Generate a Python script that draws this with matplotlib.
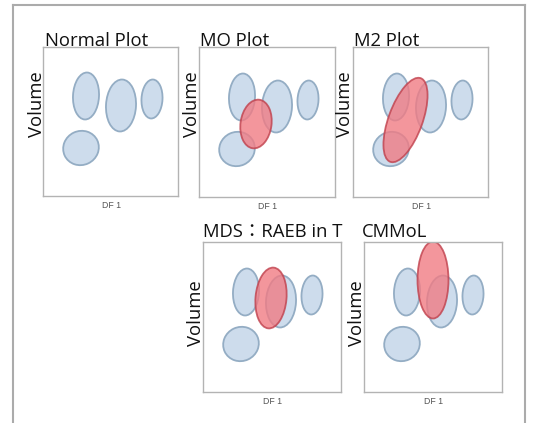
import matplotlib
matplotlib.use("Agg")
import matplotlib.pyplot as plt
from matplotlib.patches import Ellipse
from matplotlib.lines import Line2D

W, H = 533, 423

# Panel titles
titles = ["Normal Plot", "MO Plot", "M2 Plot", "MDS：RAEB in T", "CMMoL"]
x_label = "DF 1"
y_label = "Volume"

# Blue (normal) clusters: x, y, width, height, angle (in panel units)
blue_x = [43, 78, 109, 38]
blue_y = [100, 90.5, 97, 48]
blue_w = [26, 30, 21, 36]
blue_h = [47, 52, 39, 34]
blue_a = [-3, -3, -3, 25]

# Red (abnormal) cluster per panel (None for Normal)
red_x = [None, 57, 52.5, 68, 69]
red_y = [None, 73, 77, 94, 112]
red_w = [None, 31, 34, 31, 31]
red_h = [None, 49, 89, 61, 77]
red_a = [None, -8, -20, -5, 0]

# Layout: box (left, top, right, bottom) in pixels
boxes = [(43, 47, 178, 196), (199, 47, 335, 197), (353, 47, 488, 197),
         (203, 242, 341, 392), (364, 242, 502, 392)]
ylab_pos = [(41.7, 104), (196.7, 104), (350, 104), (200.7, 313), (361.7, 313)]
title_pos = [(45, 46), (200, 46), (354, 46), (203, 236.5), (361.5, 236.5)]

fig = plt.figure(figsize=(W / 100, H / 100), dpi=100)

title_font = ["Open Sans", "Noto Sans CJK JP", "DejaVu Sans"]

# outer frame
frame_kw = dict(color="#ababab", lw=1.5, transform=fig.transFigure)
fx0, fy0, fx1 = 13 / W, 1 - 5 / H, 525 / W
fig.add_artist(Line2D([fx0, fx0], [0, fy0], **frame_kw))
fig.add_artist(Line2D([fx0, fx1], [fy0, fy0], **frame_kw))
fig.add_artist(Line2D([fx1, fx1], [0, fy0], **frame_kw))

for i, (l, t, r, b) in enumerate(boxes):
    ax = fig.add_axes([l / W, 1 - b / H, (r - l) / W, (b - t) / H])
    ax.set_xlim(0, r - l)
    ax.set_ylim(0, b - t)
    ax.set_xticks([])
    ax.set_yticks([])
    for s in ax.spines.values():
        s.set_color("#b3b3b3")
        s.set_linewidth(1.0)
    for j in range(len(blue_x)):
        ax.add_patch(Ellipse((blue_x[j], blue_y[j]), blue_w[j], blue_h[j],
                             angle=blue_a[j], facecolor="#cddcec",
                             edgecolor="#94adc4", lw=1.3))
    if red_x[i] is not None:
        ax.add_patch(Ellipse((red_x[i], red_y[i]), red_w[i], red_h[i],
                             angle=red_a[i], facecolor="#f07c84",
                             edgecolor="#c0404c", lw=1.3, alpha=0.8))
    # title
    tx, ty = title_pos[i]
    fig.text(tx / W, 1 - ty / H, titles[i], ha="left", va="baseline",
             fontsize=13.3, family=title_font, color="#111111")
    # y label
    yx, yy = ylab_pos[i]
    fig.text(yx / W, 1 - yy / H, y_label, rotation=90, rotation_mode="anchor",
             ha="center", va="baseline", fontsize=13.3, family=title_font,
             color="#111111")
    # x label
    fig.text(((l + r) / 2 + 1) / W, 1 - (b + 9.5) / H, x_label, ha="center",
             va="center", fontsize=6.3, family="Liberation Sans", color="#555555")

fig.savefig("out.png", dpi=100)
